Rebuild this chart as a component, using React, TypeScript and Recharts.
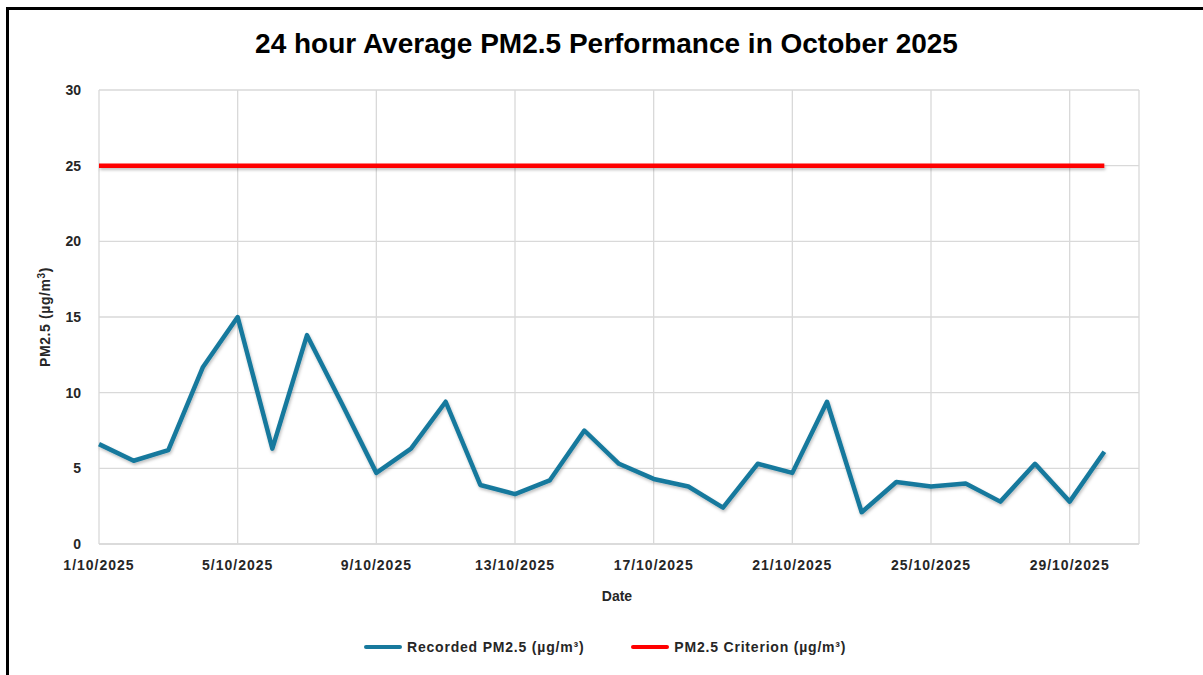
import React from 'react';
import {
  LineChart,
  Line,
  XAxis,
  YAxis,
  CartesianGrid,
  Label,
} from 'recharts';

// day of October 2025
const days = [
  1, 2, 3, 4, 5, 6, 7, 8, 9, 10, 11, 12, 13, 14, 15, 16, 17, 18, 19, 20, 21, 22,
  23, 24, 25, 26, 27, 28, 29, 30,
];
const recorded = [
  6.6, 5.5, 6.2, 11.7, 15.0, 6.3, 13.8, 9.3, 4.7, 6.3, 9.4, 3.9, 3.3, 4.2, 7.5,
  5.3, 4.3, 3.8, 2.4, 5.3, 4.7, 9.4, 2.1, 4.1, 3.8, 4.0, 2.8, 5.3, 2.8, 6.1,
];
const criterion = 25;
const xTicks = [1, 5, 9, 13, 17, 21, 25, 29];
const yTicks = [0, 5, 10, 15, 20, 25, 30];

const seriesNames = {
  recorded: 'Recorded PM2.5 (µg/m³)',
  criterion: 'PM2.5 Criterion (µg/m³)',
};

const BLUE = '#17799d';
const RED = '#ff0000';
const FONT = '"Liberation Sans", Arial, sans-serif';

const data = days.map((d, i) => ({
  day: d,
  recorded: recorded[i],
  criterion: criterion,
}));

function YLabel(props: any) {
  const vb = props.viewBox || { y: 90, height: 454 };
  const cy = vb.y + vb.height / 2;
  return (
    <text
      x={50}
      y={cy}
      transform={`rotate(-90, 50, ${cy})`}
      textAnchor="middle"
      fontFamily={FONT}
      fontWeight="bold"
      fontSize={14}
      letterSpacing={0.6}
      fill="#262626"
    >
      PM2.5 (µg/m
      <tspan fontSize={10} dy={-5}>
        3
      </tspan>
      <tspan dy={5}>)</tspan>
    </text>
  );
}

function LegendItem({ color, label }: { color: string; label: string }) {
  return (
    <div style={{ display: 'flex', alignItems: 'center', gap: 5 }}>
      <div style={{ width: 38, height: 4, background: color, borderRadius: 2 }} />
      <span>{label}</span>
    </div>
  );
}

export default function App() {
  return (
    <div
      style={{
        position: 'absolute',
        left: 0,
        top: 0,
        width: 1203,
        height: 675,
        background: '#fff',
        overflow: 'hidden',
      }}
    >
      <div
        style={{
          position: 'absolute',
          left: 6,
          top: 7,
          width: 1300,
          height: 800,
          borderLeft: '3px solid #000',
          borderTop: '3px solid #000',
        }}
      />
      <div
        style={{
          position: 'absolute',
          left: 0,
          top: 28,
          width: 1213,
          textAlign: 'center',
          fontFamily: FONT,
          fontWeight: 'bold',
          fontSize: 28,
          letterSpacing: 0,
          color: '#000',
        }}
      >
        24 hour Average PM2.5 Performance in October 2025
      </div>
      <div style={{ position: 'absolute', left: 0, top: 0 }}>
        <svg width={0} height={0} style={{ position: 'absolute' }}>
          <defs>
            <filter
              id="shadow"
              filterUnits="userSpaceOnUse"
              x={0}
              y={0}
              width={1203}
              height={675}
            >
              <feDropShadow dx="1" dy="2" stdDeviation="1.5" floodColor="#000" floodOpacity="0.25" />
            </filter>
          </defs>
        </svg>
        <LineChart
          width={1203}
          height={675}
          data={data}
          margin={{ top: 90, right: 64, bottom: 101, left: 39 }}
        >
          <CartesianGrid stroke="#d9d9d9" strokeWidth={1.3} />
          <XAxis
            dataKey="day"
            type="number"
            domain={[1, 31]}
            ticks={xTicks}
            tickFormatter={(d: number) => `${d}/10/2025`}
            axisLine={{ stroke: '#d9d9d9', strokeWidth: 1.3 }}
            tickLine={false}
            tickMargin={10}
            height={30}
            tick={{ fontFamily: FONT, fontWeight: 'bold', fontSize: 14, fill: '#262626', letterSpacing: 1 }}
            interval={0}
          />
          <YAxis
            domain={[0, 30]}
            ticks={yTicks}
            width={60}
            axisLine={false}
            tickLine={false}
            tickMargin={12}
            tick={{ fontFamily: FONT, fontWeight: 'bold', fontSize: 14, fill: '#262626' }}
          >
            <Label content={YLabel} />
          </YAxis>
          <Line
            type="linear"
            dataKey="criterion"
            name={seriesNames.criterion}
            stroke={RED}
            strokeWidth={4.5}
            dot={false}
            isAnimationActive={false}
            style={{ filter: 'url(#shadow)' }}
          />
          <Line
            type="linear"
            dataKey="recorded"
            name={seriesNames.recorded}
            stroke={BLUE}
            strokeWidth={4.5}
            strokeLinejoin="round"
            dot={false}
            isAnimationActive={false}
            style={{ filter: 'url(#shadow)' }}
          />
        </LineChart>
      </div>
      <div
        style={{
          position: 'absolute',
          left: 0,
          top: 588,
          width: 1234,
          textAlign: 'center',
          fontFamily: FONT,
          fontWeight: 'bold',
          fontSize: 14,
          color: '#262626',
        }}
      >
        Date
      </div>
      <div
        style={{
          position: 'absolute',
          left: 364,
          top: 639,
          display: 'flex',
          gap: 47,
          fontFamily: FONT,
          fontWeight: 'bold',
          fontSize: 14,
          letterSpacing: 0.8,
          color: '#262626',
        }}
      >
        <LegendItem color={BLUE} label={seriesNames.recorded} />
        <LegendItem color={RED} label={seriesNames.criterion} />
      </div>
    </div>
  );
}
